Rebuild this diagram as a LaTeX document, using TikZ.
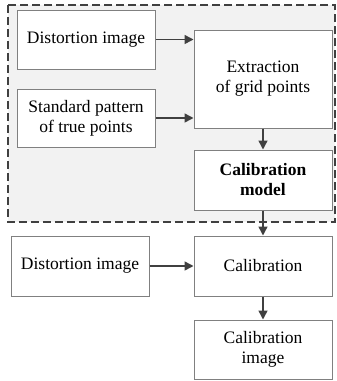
\documentclass[tikz,border=0pt]{standalone}
\usepackage{fontspec}
\setmainfont{Liberation Serif}
\usetikzlibrary{arrows.meta}
\definecolor{boxline}{HTML}{808080}
\definecolor{dark}{HTML}{404040}
\definecolor{panel}{HTML}{F2F2F2}
\begin{document}
\begin{tikzpicture}[x=1pt,y=-1pt,
  box/.style={draw=boxline,line width=1pt,fill=white,minimum width=138pt,inner sep=2pt,align=center,
    font=\fontsize{17.5}{20}\selectfont},
  arr/.style={draw=dark,line width=1.5pt,-{Triangle[length=9pt,width=9pt]}}]
\useasboundingbox (0,0) rectangle (337,381);
\draw[dark,fill=panel,line width=2pt,dash pattern=on 8pt off 4pt] (8,5) rectangle (335,222);
\node[box,minimum height=59pt] (d1) at (86,39.5) {Distortion image};
\node[box,minimum height=98pt] (ext) at (263,79) {Extraction\\of grid points};
\node[box,minimum height=58pt] (std) at (86,118) {Standard pattern\\of true points};
\node[box,minimum height=60pt] (cm) at (263,180) {\textbf{Calibration}\\\textbf{model}};
\node[box,minimum height=60pt] (d2) at (80,266) {Distortion image};
\node[box,minimum height=60pt] (cal) at (263,266) {Calibration};
\node[box,minimum height=59pt] (ci) at (263,349.5) {Calibration\\image};
\draw[arr] (d1.east) -- (d1.east -| ext.west);
\draw[arr] (std.east) -- (std.east -| ext.west);
\draw[arr] (ext) -- (cm);
\draw[arr] (cm) -- (cal);
\draw[arr] (d2) -- (cal);
\draw[arr] (cal) -- (ci);
\end{tikzpicture}
\end{document}
